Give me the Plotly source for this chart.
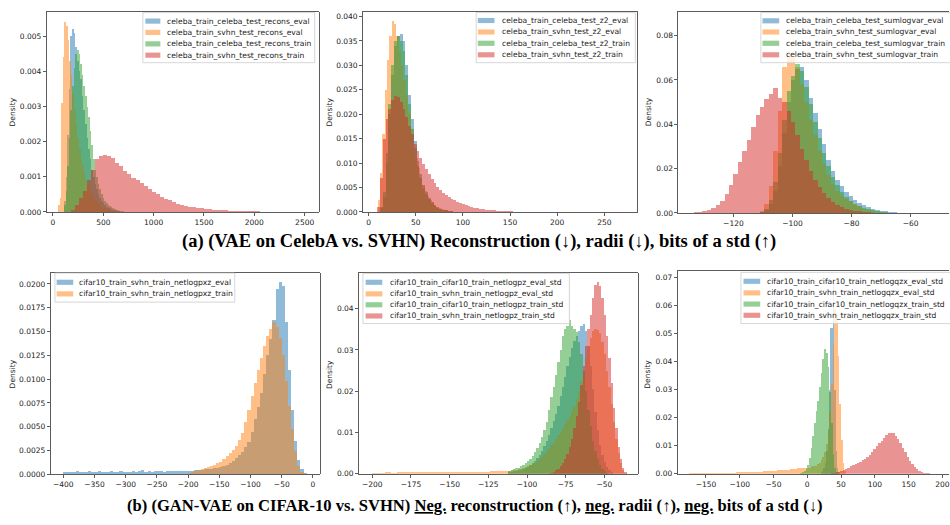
import plotly.graph_objects as go

# ---------------- DATA (histogram densities) ----------------
# Panel (a1) reconstruction
p1_blue_start, p1_blue_width = 110, 16
p1_blue = [0.0003, 0.0010, 0.0022, 0.0035, 0.0050, 0.0052, 0.0051, 0.0047, 0.0043, 0.0040,
           0.0038, 0.0033, 0.0029, 0.0025, 0.0021, 0.0018, 0.0015, 0.0012, 0.0010, 0.0008,
           0.00065, 0.0005, 0.0004, 0.0003, 0.00025, 0.0002, 0.00015, 0.00012, 0.0001, 0.00008,
           0.00006, 0.00005, 0.00004, 0.00003, 0.00002]
p1_orange_start, p1_orange_width = 50, 16
p1_orange = [0.0002, 0.0004, 0.0031, 0.0044, 0.0054, 0.0053, 0.0049, 0.0043, 0.0039, 0.0034,
             0.0029, 0.0025, 0.0021, 0.0018, 0.0015, 0.0013, 0.0011, 0.0009, 0.0008, 0.0007,
             0.0006, 0.0005, 0.0004, 0.00035, 0.0003, 0.00025, 0.0002, 0.00015, 0.00012, 0.0001,
             0.00008, 0.00006, 0.00005, 0.00004, 0.00003, 0.00002]
p1_green_start, p1_green_width = 110, 16
p1_green = [0.0002, 0.0006, 0.0013, 0.0021, 0.0029, 0.0036, 0.0041, 0.0045, 0.0046, 0.0045,
            0.0042, 0.0039, 0.0036, 0.0033, 0.0030, 0.0027, 0.0023, 0.0019, 0.0015, 0.0012,
            0.0010, 0.0008, 0.00065, 0.0005, 0.0004, 0.00032, 0.00026, 0.0002, 0.00016, 0.00013,
            0.0001, 0.00008, 0.00006, 0.00005, 0.00004, 0.00003, 0.00002, 0.00001]
p1_red_start, p1_red_width = 180, 40
p1_red = [0.00005, 0.0002, 0.0004, 0.0006, 0.0009, 0.0012, 0.0015, 0.0016, 0.00163, 0.0016,
          0.00155, 0.0014, 0.0013, 0.00118, 0.00108, 0.00098, 0.0009, 0.00082, 0.00074, 0.00066,
          0.00058, 0.0005, 0.00044, 0.00038, 0.00033, 0.00028, 0.00024, 0.0002, 0.00018, 0.00015,
          0.00013, 0.00011, 0.0001, 0.00009, 0.00008, 0.00007, 0.00006, 0.00005, 0.00005, 0.00004,
          0.00004, 0.00003, 0.00003, 0.00003, 0.00002, 0.00002, 0.00002, 0.00001, 0.00001, 0.00001,
          0.00001, 0.000008, 0.000005, 0.000005, 0.000005, 0.000003]
p1_labels = ["celeba_train_celeba_test_recons_eval", "celeba_train_svhn_test_recons_eval",
             "celeba_train_celeba_test_recons_train", "celeba_train_svhn_test_recons_train"]

# Panel (a2) radii
p2_blue_start, p2_blue_width = 12, 3
p2_blue = [0.0008, 0.003, 0.010, 0.020, 0.028, 0.034, 0.036, 0.0365, 0.035, 0.030,
           0.024, 0.019, 0.0145, 0.0105, 0.0078, 0.0056, 0.004, 0.0029, 0.002, 0.0014,
           0.001, 0.0007, 0.0005, 0.0003, 0.0002, 0.0001]
p2_orange_start, p2_orange_width = 9.5, 2.5
p2_orange = [0.0025, 0.008, 0.016, 0.025, 0.031, 0.036, 0.039, 0.0385, 0.036, 0.033,
             0.030, 0.027, 0.024, 0.020, 0.017, 0.014, 0.011, 0.009, 0.007, 0.0055,
             0.0043, 0.0033, 0.0025, 0.002, 0.0015, 0.0011, 0.0008, 0.0006, 0.0004, 0.0003,
             0.0002, 0.0001]
p2_green_start, p2_green_width = 12, 3
p2_green = [0.001, 0.004, 0.012, 0.022, 0.030, 0.035, 0.036, 0.035, 0.033, 0.028,
            0.022, 0.017, 0.013, 0.0095, 0.007, 0.005, 0.0036, 0.0026, 0.0018, 0.0013,
            0.0009, 0.0006, 0.0004, 0.0003, 0.0002, 0.0001]
p2_red_start, p2_red_width = 9, 3
p2_red = [0.001, 0.007, 0.015, 0.019, 0.021, 0.023, 0.0238, 0.0235, 0.0225, 0.021,
          0.0195, 0.0175, 0.016, 0.014, 0.0125, 0.011, 0.0098, 0.0088, 0.0078, 0.0068,
          0.006, 0.0052, 0.0045, 0.0039, 0.0034, 0.003, 0.0027, 0.0024, 0.0021, 0.0018,
          0.0016, 0.0014, 0.0012, 0.001, 0.0009, 0.0008, 0.0007, 0.0006, 0.0005, 0.0004,
          0.00035, 0.0003, 0.00025, 0.0002, 0.0002, 0.00015, 0.00012, 0.0001, 0.00008]
p2_labels = ["celeba_train_celeba_test_z2_eval", "celeba_train_svhn_test_z2_eval",
             "celeba_train_celeba_test_z2_train", "celeba_train_svhn_test_z2_train"]

# Panel (a3) bits of a std
p3_blue_start, p3_blue_width = -111, 1.5
p3_blue = [0.0003, 0.0012, 0.004, 0.010, 0.021, 0.036, 0.050, 0.060, 0.065, 0.066,
           0.060, 0.052, 0.045, 0.038, 0.031, 0.024, 0.019, 0.015, 0.012, 0.0095,
           0.0075, 0.0058, 0.0045, 0.0035, 0.0026, 0.0019, 0.0014, 0.001, 0.0007, 0.0005,
           0.0003, 0.0002]
p3_orange_start, p3_orange_width = -111, 1.5
p3_orange = [0.001, 0.004, 0.012, 0.028, 0.046, 0.066, 0.072, 0.071, 0.066, 0.058,
             0.050, 0.042, 0.035, 0.028, 0.022, 0.017, 0.013, 0.010, 0.0078, 0.0062,
             0.0052, 0.004, 0.003, 0.002, 0.0013, 0.0008, 0.0005, 0.0003]
p3_green_start, p3_green_width = -111, 1.5
p3_green = [0.0005, 0.002, 0.006, 0.014, 0.027, 0.042, 0.055, 0.062, 0.067, 0.064,
            0.057, 0.049, 0.041, 0.034, 0.027, 0.021, 0.016, 0.0125, 0.0095, 0.0072,
            0.0055, 0.0042, 0.0032, 0.0024, 0.0017, 0.0012, 0.0008, 0.0005, 0.0003, 0.0002]
p3_red_start, p3_red_width = -133.5, 1.5
p3_red = [0.0003, 0.0006, 0.001, 0.0015, 0.0022, 0.0035, 0.0055, 0.0085, 0.0125, 0.0175,
          0.023, 0.028, 0.033, 0.039, 0.044, 0.048, 0.0515, 0.0535, 0.0565, 0.052,
          0.050, 0.046, 0.041, 0.035, 0.029, 0.024, 0.019, 0.015, 0.0115, 0.0088,
          0.0066, 0.005, 0.0037, 0.0028, 0.002, 0.0015, 0.0011, 0.0008, 0.0005, 0.0003,
          0.0002]
p3_labels = ["celeba_train_celeba_test_sumlogvar_eval", "celeba_train_svhn_test_sumlogvar_eval",
             "celeba_train_celeba_test_sumlogvar_train", "celeba_train_svhn_test_sumlogvar_train"]

# Panel (b1) neg. reconstruction
p4_blue_start, p4_blue_width = -400, 5
p4_blue = [0.0003, 0.0003, 0.00028, 0.0003, 0.00032, 0.0003, 0.00029, 0.0003, 0.00031, 0.0003,
           0.0003, 0.00032, 0.0003, 0.00029, 0.0003, 0.00031, 0.0003, 0.0003, 0.00032, 0.0003,
           0.0003, 0.0003, 0.00031, 0.0003, 0.00033, 0.00045, 0.0003, 0.00031, 0.0003, 0.00032,
           0.00033, 0.00035, 0.0003, 0.00033, 0.00034, 0.00035, 0.00033, 0.00036, 0.00035, 0.00037,
           0.0004, 0.0004, 0.00042, 0.00045, 0.0005, 0.00052, 0.00055, 0.0006, 0.00065, 0.0007,
           0.0008, 0.0009, 0.001, 0.0012, 0.0014, 0.0017, 0.002, 0.0024, 0.0029, 0.0034,
           0.0045, 0.0058, 0.0071, 0.0086, 0.0105, 0.0125, 0.0142, 0.0162, 0.0195, 0.0202,
           0.0198, 0.016, 0.011, 0.0068, 0.0035, 0.0015, 0.0006, 0.0002]
p4_orange_start, p4_orange_width = -200, 5
p4_orange = [0.0002, 0.0003, 0.0004, 0.0005, 0.0006, 0.0007, 0.0008, 0.0009, 0.001, 0.0012,
             0.0013, 0.0016, 0.0019, 0.0022, 0.0026, 0.003, 0.0036, 0.0044, 0.0055, 0.0068,
             0.0082, 0.0096, 0.011, 0.0122, 0.0135, 0.0145, 0.0153, 0.016, 0.0155, 0.0143,
             0.0125, 0.0098, 0.0072, 0.0048, 0.0025, 0.0009, 0.0003]
p4_labels = ["cifar10_train_svhn_train_netlogpxz_eval", "cifar10_train_svhn_train_netlogpxz_train"]

# Panel (b2) neg. radii
p5_blue_start, p5_blue_width = -112, 1.5
p5_blue = [0.0004, 0.0005, 0.0006, 0.0007, 0.0008, 0.001, 0.0012, 0.0014, 0.0017, 0.002,
           0.0025, 0.003, 0.0037, 0.0045, 0.0055, 0.0067, 0.008, 0.0095, 0.0112, 0.0128,
           0.0145, 0.0165, 0.0188, 0.021, 0.0235, 0.026, 0.0282, 0.0305, 0.0322, 0.0335,
           0.0345, 0.0358, 0.0362, 0.0345, 0.031, 0.026, 0.0205, 0.015, 0.0105, 0.007,
           0.0045, 0.0028, 0.0016, 0.0009, 0.0004]
p5_orange_tail_start, p5_orange_tail_width = -200, 4
p5_orange_tail = [0.0003, 0.0003, 0.00035, 0.0003, 0.00035, 0.0004, 0.00035, 0.0004, 0.00035, 0.0004,
                  0.0004, 0.00045, 0.0004, 0.0004, 0.00045, 0.0005, 0.00045, 0.0005, 0.0005, 0.00055,
                  0.0006, 0.0006]
p5_orange_start, p5_orange_width = -112, 1.5
p5_orange = [0.0007, 0.0008, 0.0009, 0.001, 0.0011, 0.0012, 0.0014, 0.0016, 0.0018, 0.002,
             0.0023, 0.0027, 0.0031, 0.0036, 0.0041, 0.0047, 0.0054, 0.0062, 0.007, 0.0075,
             0.0085, 0.0095, 0.0102, 0.011, 0.012, 0.013, 0.014, 0.0152, 0.0165, 0.018,
             0.020, 0.0225, 0.025, 0.028, 0.031, 0.033, 0.0345, 0.035, 0.0348, 0.034,
             0.032, 0.029, 0.025, 0.021, 0.017, 0.0125, 0.0085, 0.005, 0.0025, 0.001,
             0.0003]
p5_green_start, p5_green_width = -112, 1.5
p5_green = [0.0007, 0.0009, 0.0011, 0.0013, 0.0015, 0.0018, 0.0021, 0.0025, 0.003, 0.0036,
            0.0043, 0.0052, 0.0063, 0.0075, 0.0088, 0.0105, 0.0125, 0.0155, 0.0185, 0.021,
            0.024, 0.027, 0.030, 0.0335, 0.035, 0.0358, 0.0372, 0.0358, 0.0352, 0.0344,
            0.032, 0.029, 0.025, 0.020, 0.0155, 0.0115, 0.008, 0.0055, 0.0035, 0.002,
            0.0012, 0.0006, 0.0003]
p5_red_start, p5_red_width = -85, 1.5
p5_red = [0.0003, 0.0005, 0.0008, 0.0012, 0.0018, 0.0026, 0.0036, 0.0048, 0.0064, 0.0085,
          0.011, 0.014, 0.0175, 0.0215, 0.026, 0.031, 0.035, 0.0385, 0.0425, 0.0458,
          0.0465, 0.0455, 0.0425, 0.0385, 0.0335, 0.028, 0.022, 0.016, 0.011, 0.0065,
          0.0035, 0.0015, 0.0005]
p5_labels = ["cifar10_train_cifar10_train_netlogpz_eval_std", "cifar10_train_svhn_train_netlogpz_eval_std",
             "cifar10_train_cifar10_train_netlogpz_train_std", "cifar10_train_svhn_train_netlogpz_train_std"]

# Panel (b3) neg. bits of a std
p6_blue_start, p6_blue_width = 20, 2
p6_blue = [0.0005, 0.001, 0.002, 0.004, 0.008, 0.016, 0.030, 0.052, 0.052, 0.0687,
           0.030, 0.008, 0.002, 0.0005]
p6_orange_tail_start, p6_orange_tail_width = -175, 10
p6_orange_tail = [0.0001, 0.0001, 0.0002, 0.0002, 0.0003, 0.0003, 0.0004, 0.0005, 0.0006, 0.0007,
                  0.0008, 0.0009, 0.001, 0.0012, 0.0014, 0.0016, 0.0019, 0.0022, 0.0028]
p6_orange_start, p6_orange_width = 15, 2.5
p6_orange = [0.0035, 0.004, 0.0048, 0.006, 0.0078, 0.0105, 0.015, 0.022, 0.032, 0.046,
             0.059, 0.057, 0.042, 0.025, 0.012, 0.004, 0.001]
p6_green_start, p6_green_width = -10, 2.5
p6_green = [0.0003, 0.0006, 0.001, 0.0018, 0.003, 0.0055, 0.009, 0.0135, 0.018, 0.0225,
            0.026, 0.031, 0.036, 0.041, 0.0445, 0.043, 0.038, 0.029, 0.018, 0.007,
            0.002, 0.0005]
p6_red_start, p6_red_width = 35, 3.5
p6_red = [0.0002, 0.0004, 0.0006, 0.0008, 0.0011, 0.0014, 0.0018, 0.0022, 0.0027, 0.0031,
          0.0035, 0.0039, 0.0043, 0.0048, 0.0054, 0.0061, 0.0068, 0.0077, 0.0088, 0.0098,
          0.0108, 0.0118, 0.0128, 0.0137, 0.0145, 0.0147, 0.0144, 0.0136, 0.0124, 0.0108,
          0.0092, 0.0076, 0.006, 0.0046, 0.0034, 0.0024, 0.0016, 0.001, 0.0006, 0.0004,
          0.0002, 0.0001, 0.00005]
p6_labels = ["cifar10_train_cifar10_train_netlogqzx_eval_std", "cifar10_train_svhn_train_netlogqzx_eval_std",
             "cifar10_train_cifar10_train_netlogqzx_train_std", "cifar10_train_svhn_train_netlogqzx_train_std"]

caption_a = "(a) (VAE on CelebA vs. SVHN) Reconstruction (↓), radii (↓), bits of a std (↑)"
caption_b = ("(b) (GAN-VAE on CIFAR-10 vs. SVHN) <u>Neg.</u> reconstruction (↑), "
             "<u>neg.</u> radii (↑), <u>neg.</u> bits of a std (↓)")

# ---------------- STYLE ----------------
W, H = 950, 525
C = {
    "blue": "rgba(31,119,180,0.5)",
    "orange": "rgba(255,127,14,0.5)",
    "green": "rgba(44,160,44,0.5)",
    "red": "rgba(214,39,40,0.5)",
}
TICK_FONT = dict(family="DejaVu Sans", size=7.5, color="#222")
LEG_FONT = dict(family="DejaVu Sans", size=7.6, color="#222")


def fx(p):
    return p / W


def fy(p):
    return 1 - p / H


fig = go.Figure()


def add_hist(n, start, width, dens, color):
    sfx = "" if n == 1 else str(n)
    fig.add_trace(go.Bar(
        x0=start + width / 2, dx=width, y=dens, width=width,
        marker=dict(color=color, line=dict(width=0)),
        xaxis="x" + sfx, yaxis="y" + sfx, showlegend=False, hoverinfo="skip"))


add_hist(1, p1_blue_start, p1_blue_width, p1_blue, C["blue"])
add_hist(1, p1_orange_start, p1_orange_width, p1_orange, C["orange"])
add_hist(1, p1_green_start, p1_green_width, p1_green, C["green"])
add_hist(1, p1_red_start, p1_red_width, p1_red, C["red"])

add_hist(2, p2_blue_start, p2_blue_width, p2_blue, C["blue"])
add_hist(2, p2_orange_start, p2_orange_width, p2_orange, C["orange"])
add_hist(2, p2_green_start, p2_green_width, p2_green, C["green"])
add_hist(2, p2_red_start, p2_red_width, p2_red, C["red"])

add_hist(3, p3_blue_start, p3_blue_width, p3_blue, C["blue"])
add_hist(3, p3_orange_start, p3_orange_width, p3_orange, C["orange"])
add_hist(3, p3_green_start, p3_green_width, p3_green, C["green"])
add_hist(3, p3_red_start, p3_red_width, p3_red, C["red"])

add_hist(4, p4_blue_start, p4_blue_width, p4_blue, C["blue"])
add_hist(4, p4_orange_start, p4_orange_width, p4_orange, C["orange"])

add_hist(5, p5_blue_start, p5_blue_width, p5_blue, C["blue"])
add_hist(5, p5_orange_tail_start, p5_orange_tail_width, p5_orange_tail, C["orange"])
add_hist(5, p5_orange_start, p5_orange_width, p5_orange, C["orange"])
add_hist(5, p5_green_start, p5_green_width, p5_green, C["green"])
add_hist(5, p5_red_start, p5_red_width, p5_red, C["red"])

add_hist(6, p6_blue_start, p6_blue_width, p6_blue, C["blue"])
add_hist(6, p6_orange_tail_start, p6_orange_tail_width, p6_orange_tail, C["orange"])
add_hist(6, p6_orange_start, p6_orange_width, p6_orange, C["orange"])
add_hist(6, p6_green_start, p6_green_width, p6_green, C["green"])
add_hist(6, p6_red_start, p6_red_width, p6_red, C["red"])

# axes boxes in pixels (left, right, top, bottom) and ranges
panels = [
    dict(n=1, px=(46.7, 319.0), py=(12.0, 214.0), xr=(-62.5, 2639), yr=(0, 0.005697), xd=500, yd=0.001, yf=".3f", right=True),
    dict(n=2, px=(363.3, 638.0), py=(11.7, 214.0), xr=(-6.0, 285.0), yr=(0, 0.04101), xd=50, yd=0.005, yf=".3f", right=True),
    dict(n=3, px=(679.0, 950.0), py=(12.3, 215.0), xr=(-138.67, -46.99), yr=(0, 0.0906), xd=20, yd=0.02, yf=".2f", right=False),
    dict(n=4, px=(50.7, 320.0), py=(275.7, 479.0), xr=(-420.2, 10.7), yr=(0, 0.02114), xd=50, yd=0.0025, yf=".4f", right=True),
    dict(n=5, px=(359.3, 638.3), py=(275.7, 478.3), xr=(-208.65, -28.5), yr=(0, 0.04864), xd=25, yd=0.01, yf=".2f", right=True),
    dict(n=6, px=(678.3, 950.0), py=(274.0, 478.3), xr=(-192.0, 209.9), yr=(0, 0.07212), xd=50, yd=0.01, yf=".2f", right=False),
]

layout = dict(
    width=W, height=H, autosize=False,
    margin=dict(l=0, r=0, t=0, b=0),
    paper_bgcolor="white", plot_bgcolor="white",
    barmode="overlay", bargap=0, showlegend=False, hovermode=False,
)
common = dict(showline=True, linecolor="#333", linewidth=0.8, ticks="outside", ticklen=3,
              tickwidth=0.8, tickcolor="#333", tickfont=TICK_FONT, showgrid=False,
              zeroline=False, fixedrange=True, ticklabeloverflow="allow")
for p in panels:
    n = p["n"]
    sfx = "" if n == 1 else str(n)
    layout["xaxis" + sfx] = dict(
        domain=[fx(p["px"][0]), min(1.0, fx(p["px"][1]))], range=list(p["xr"]),
        anchor="y" + sfx, tick0=0, dtick=p["xd"], mirror=True, **common)
    layout["yaxis" + sfx] = dict(
        domain=[fy(p["py"][1]), fy(p["py"][0])], range=list(p["yr"]),
        anchor="x" + sfx, tick0=0, dtick=p["yd"], tickformat=p["yf"],
        mirror=p["right"], **common)
fig.update_layout(**layout)

shapes = []
annotations = []

# Density labels
for (x, y) in [(12.5, 113), (330, 113), (650, 113), (12, 377), (330, 378), (648, 378)]:
    annotations.append(dict(x=fx(x), y=fy(y), xref="paper", yref="paper", text="Density",
                            textangle=-90, showarrow=False, font=TICK_FONT,
                            xanchor="center", yanchor="middle"))

# manual matplotlib-style legends
legend_specs = [
    dict(box=(143, 12.7, 315, 63.3), patch=(145.5, 160.5), tx=166.5, ys=[21.3, 32.7, 44.3, 55.7], labels=p1_labels,
         colors=["blue", "orange", "green", "red"]),
    dict(box=(476.7, 12.7, 636, 63.3), patch=(478.3, 495), tx=501.5, ys=[20.7, 32.3, 43.7, 55.3], labels=p2_labels,
         colors=["blue", "orange", "green", "red"]),
    dict(box=(761.7, 12.7, 953, 63.3), patch=(763.3, 780), tx=786, ys=[21, 32.3, 43.7, 55.3], labels=p3_labels,
         colors=["blue", "orange", "green", "red"]),
    dict(box=(55, 275.7, 235, 305), patch=(56.7, 73.3), tx=78.3, ys=[285, 296.7], labels=p4_labels,
         colors=["blue", "orange"]),
    dict(box=(363.3, 276, 570, 326.7), patch=(366, 382.7), tx=389, ys=[285, 296.7, 307.7, 319], labels=p5_labels,
         colors=["blue", "orange", "green", "red"]),
    dict(box=(741.7, 275, 953, 326.7), patch=(744.3, 761), tx=766.7, ys=[284, 295.7, 307, 318.3], labels=p6_labels,
         colors=["blue", "orange", "green", "red"]),
]
for spec in legend_specs:
    x0, y0, x1, y1 = spec["box"]
    shapes.append(dict(type="rect", xref="paper", yref="paper", x0=fx(x0), x1=fx(x1), y0=fy(y1), y1=fy(y0),
                       fillcolor="rgba(255,255,255,0.8)", line=dict(color="#cccccc", width=0.8), layer="above"))
    for yy, lab, col in zip(spec["ys"], spec["labels"], spec["colors"]):
        shapes.append(dict(type="rect", xref="paper", yref="paper",
                           x0=fx(spec["patch"][0]), x1=fx(spec["patch"][1]),
                           y0=fy(yy + 2.6), y1=fy(yy - 2.6),
                           fillcolor=C[col], line=dict(width=0), layer="above"))
        annotations.append(dict(x=fx(spec["tx"]), y=fy(yy), xref="paper", yref="paper", text=lab,
                                showarrow=False, font=LEG_FONT, xanchor="left", yanchor="middle",
                                borderpad=0))

# captions
annotations.append(dict(x=fx(480), y=fy(244), xref="paper", yref="paper", text="<b>" + caption_a + "</b>",
                        showarrow=False, font=dict(family="Liberation Serif", size=18.5, color="black"),
                        xanchor="center", yanchor="middle"))
annotations.append(dict(x=fx(476), y=fy(510), xref="paper", yref="paper", text="<b>" + caption_b + "</b>",
                        showarrow=False, font=dict(family="Liberation Serif", size=16.6, color="black"),
                        xanchor="center", yanchor="middle"))

fig.update_layout(shapes=shapes, annotations=annotations)
fig.write_html("out.html",
               config={"displayModeBar": False, "staticPlot": True},
               post_script="document.body.style.margin='0px';document.body.style.overflow='hidden';")
